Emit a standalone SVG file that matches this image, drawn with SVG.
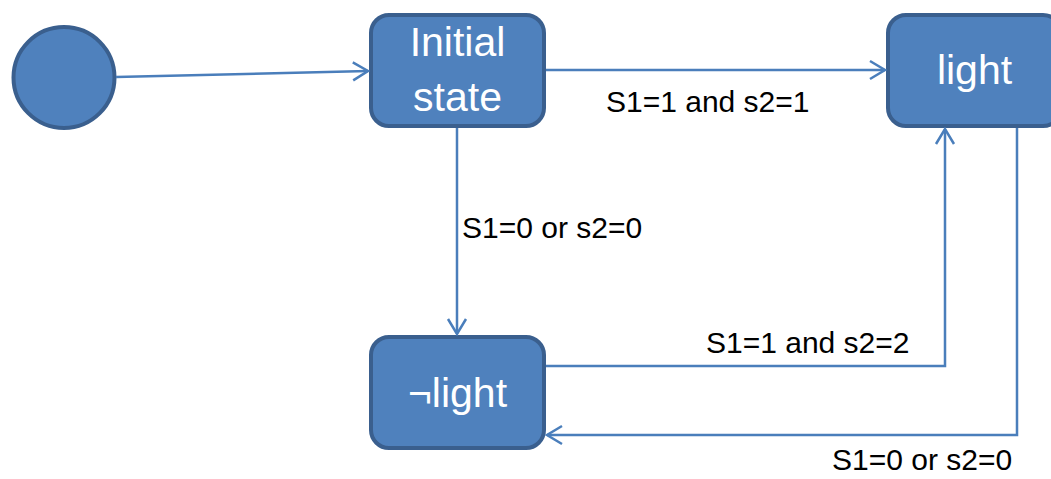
<svg xmlns="http://www.w3.org/2000/svg" width="1051" height="479" viewBox="0 0 1051 479">
<style>
.node{fill:#4F81BD;stroke:#3A5F8E;stroke-width:4}
.nt{font-family:"Liberation Sans",Arial,sans-serif;font-size:41px;fill:#ffffff;text-anchor:middle}
.lbl{font-family:"Liberation Sans",Arial,sans-serif;font-size:30px;fill:#000000}
.con{fill:none;stroke:#4A7EBB;stroke-width:2.5}
</style>
<defs>
<marker id="arr" viewBox="-17 -11 19 22" markerWidth="19" markerHeight="22" markerUnits="userSpaceOnUse" refX="0" refY="0" orient="auto">
<path d="M-15,-9 L0,0 L-15,9" fill="none" stroke="#4A7EBB" stroke-width="2.5"/>
</marker>
</defs>
<rect width="1051" height="479" fill="#ffffff"/>
<g id="start">
<circle class="node" cx="64" cy="77.5" r="50.5"/>
</g>
<g id="initial">
<rect class="node" x="371" y="15" width="173" height="111" rx="18"/>
<text class="nt" x="457.5" y="56">Initial</text>
<text class="nt" x="457.5" y="111">state</text>
</g>
<g id="light">
<rect class="node" x="888" y="15" width="173" height="111" rx="18"/>
<text class="nt" x="974.5" y="84">light</text>
</g>
<g id="notlight">
<rect class="node" x="371" y="337" width="173" height="111" rx="18"/>
<text class="nt" x="457.5" y="407">¬light</text>
</g>
<g id="connectors">
<path class="con" d="M116,77 L368,71" marker-end="url(#arr)"/>
<path class="con" d="M546,70 L885,70" marker-end="url(#arr)"/>
<path class="con" d="M457,128 L457,334" marker-end="url(#arr)"/>
<path class="con" d="M546,366 L945,366 L945,129" marker-end="url(#arr)"/>
<path class="con" d="M1017,128 L1017,435 L547,435" marker-end="url(#arr)"/>
</g>
<g id="labels">
<text class="lbl" x="606" y="112">S1=1 and s2=1</text>
<text class="lbl" x="462" y="238">S1=0 or s2=0</text>
<text class="lbl" x="706" y="353">S1=1 and s2=2</text>
<text class="lbl" x="832" y="470">S1=0 or s2=0</text>
</g>
</svg>
